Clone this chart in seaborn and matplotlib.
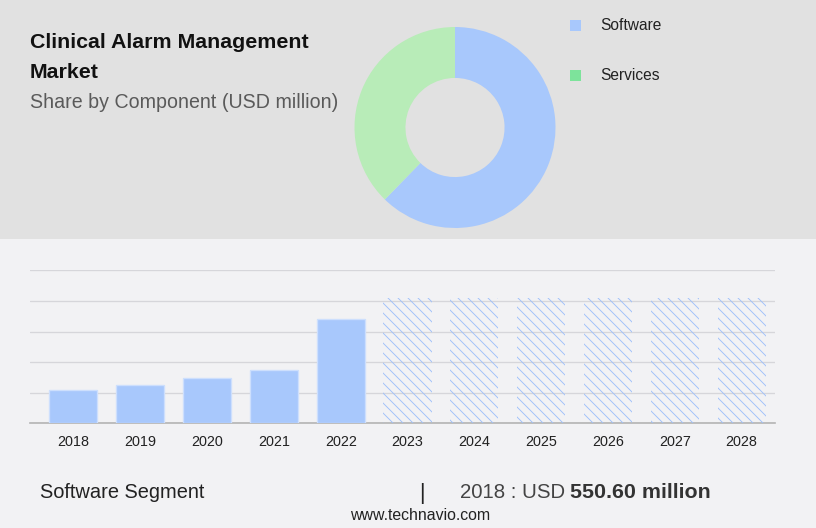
import matplotlib
matplotlib.use('Agg')
import matplotlib.pyplot as plt
import seaborn as sns
import pandas as pd
from matplotlib.patches import Rectangle

# data
years = ['2018', '2019', '2020', '2021', '2022', '2023', '2024', '2025', '2026', '2027', '2028']
software_values = [550.6, 626, 745, 876, 1704, 2040, 2040, 2040, 2040, 2040, 2040]
n_actual = 5  # 2018-2022 solid, the rest hatched forecast
components = ['Software', 'Services']
component_share = [62.3, 37.7]

bar_col = '#a8c8fc'
hatch_col = '#9fc0fa'
donut_cols = ['#a8c8fc', '#b8ecb8']
legend_cols = ['#a8c8fc', '#7de39b']

sns.set_theme(style='white')
plt.rcParams['font.family'] = ['Liberation Sans', 'DejaVu Sans']
plt.rcParams['hatch.linewidth'] = 0.55

W, H = 816, 528
fig = plt.figure(figsize=(6.8, 4.4), dpi=120, facecolor='#f2f2f4')

def fx(px):
    return px / W

def fy(py):
    return 1 - py / H

# grey top panel
fig.add_artist(Rectangle((0, fy(239)), 1, 239 / H, transform=fig.transFigure,
                         facecolor='#e1e1e1', edgecolor='none', zorder=0))

# titles
fig.text(fx(30), fy(43), 'Clinical Alarm Management', fontsize=12.8, fontweight='bold',
         color='#111111', va='center', ha='left')
fig.text(fx(30), fy(72), 'Market', fontsize=12.8, fontweight='bold',
         color='#111111', va='center', ha='left')
fig.text(fx(30), fy(103), 'Share by Component (USD million)', fontsize=11.8,
         color='#5a5a5a', va='center', ha='left')

# donut
ax_d = fig.add_axes([fx(354.5), fy(228), 201 / W, 201 / H])
ax_d.pie(component_share, colors=donut_cols, startangle=90, counterclock=False,
         wedgeprops=dict(width=0.507, edgecolor='none'))
ax_d.set_xlim(-1, 1)
ax_d.set_ylim(-1, 1)
ax_d.set_aspect('equal')
ax_d.axis('off')

# legend
for i, (name, col) in enumerate(zip(components, legend_cols)):
    yc = 25.5 + 50 * i
    fig.add_artist(Rectangle((fx(570), fy(yc + 5.5)), 11 / W, 11 / H,
                             transform=fig.transFigure, facecolor=col, edgecolor='none'))
    fig.text(fx(600), fy(yc), name, fontsize=9.3, color='#222222', va='center', ha='left')

# bar chart
df = pd.DataFrame({'year': years, 'value': software_values})
ax = fig.add_axes([fx(30), fy(423.3), 745 / W, 153 / H])
ax.set_facecolor('none')
sns.barplot(data=df, x='year', y='value', color=bar_col, saturation=1, width=0.72,
            ax=ax, zorder=3)
for i, p in enumerate(ax.patches):
    if i < n_actual:
        p.set_edgecolor('#cddffd')
        p.set_linewidth(0.8)
    else:
        p.set_facecolor('none')
        p.set_edgecolor(hatch_col)
        p.set_hatch('\\\\\\\\')
        p.set_linewidth(0)

ax.set_xlim(-0.65, 10.5)
ax.set_ylim(0, 2500)
ax.set_yticks([0, 500, 1000, 1500, 2000, 2500])
ax.set_yticklabels([])
ax.yaxis.grid(True, color='#d6d6da', linewidth=0.8, zorder=0)
ax.set_axisbelow(True)
ax.set_xlabel('')
ax.set_ylabel('')
ax.tick_params(axis='x', length=0, pad=7, labelsize=8.6, labelcolor='#222222')
ax.tick_params(axis='y', length=0)
for s in ['top', 'right', 'left']:
    ax.spines[s].set_visible(False)
ax.spines['bottom'].set_color('#b4b4b4')
ax.spines['bottom'].set_linewidth(1.0)

# footer
fig.text(fx(40), fy(493), 'Software Segment', fontsize=12, color='#222222',
         va='center', ha='left')
fig.text(fx(422), fy(493), '|', fontsize=13, color='#222222', va='center', ha='center')
fig.text(fx(460), fy(493), '2018 : USD ', fontsize=12.2, color='#444444',
         va='center', ha='left')
fig.text(fx(570), fy(493), '550.60 million', fontsize=12.8, fontweight='bold',
         color='#333333', va='center', ha='left')
fig.text(fx(420), fy(516), 'www.technavio.com', fontsize=9.5, color='#222222',
         va='center', ha='center')

fig.savefig('out.png', dpi=120, facecolor=fig.get_facecolor())
